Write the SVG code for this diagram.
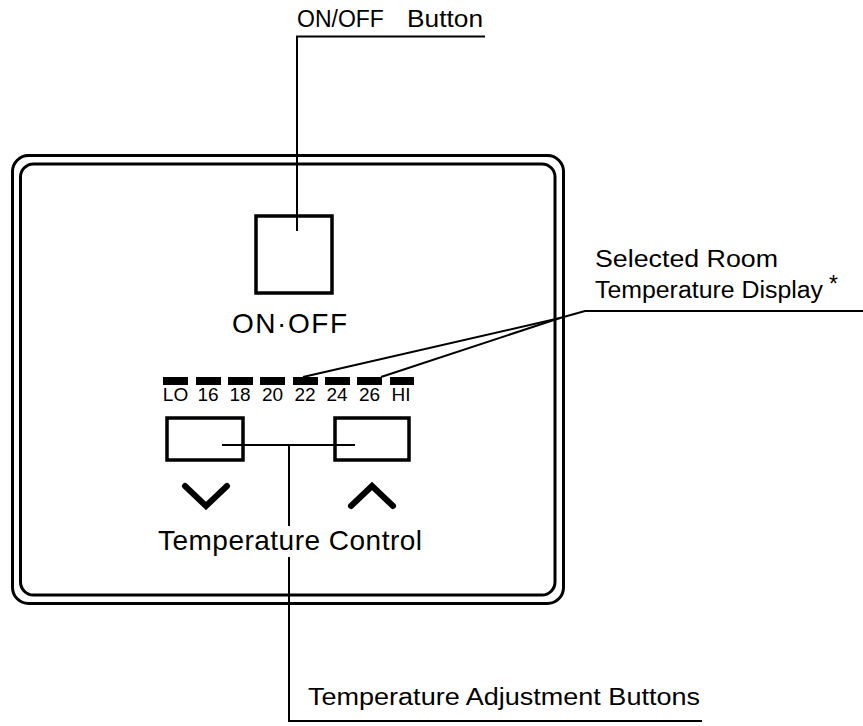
<svg xmlns="http://www.w3.org/2000/svg" width="863" height="726" viewBox="0 0 863 726">
<style>
  .frame { fill: none; stroke: #000; stroke-width: 3; }
  .btn { fill: #fff; stroke: #000; stroke-width: 3.5; }
  .lead { fill: none; stroke: #000; stroke-width: 2; }
  .chev { fill: none; stroke: #000; stroke-width: 6; stroke-linecap: round; stroke-linejoin: miter; }
  .bar { fill: #000; }
  text { font-family: "Liberation Sans", Arial, Helvetica, sans-serif; fill: #000; }
  .lbl { font-size: 23px; }
  .big { font-size: 28px; }
  .num { font-size: 19px; text-anchor: middle; }
</style>
<rect width="863" height="726" fill="#fff"/>
<g id="panel">
  <rect class="frame" x="12.5" y="155.5" width="551" height="448" rx="16"/>
  <rect class="frame" x="20.5" y="164" width="534.5" height="431" rx="13"/>
</g>
<g id="onoff-button">
  <rect class="btn" x="256" y="216" width="76" height="77"/>
  <text class="big" x="232" y="333" textLength="115" lengthAdjust="spacing">ON·OFF</text>
</g>
<g id="temperature-display">
  <rect class="bar" x="163" y="377" width="25" height="8"/>
  <rect class="bar" x="196" y="377" width="25" height="8"/>
  <rect class="bar" x="228" y="377" width="25" height="8"/>
  <rect class="bar" x="260" y="377" width="25" height="8"/>
  <rect class="bar" x="293" y="377" width="25" height="8"/>
  <rect class="bar" x="325" y="377" width="25" height="8"/>
  <rect class="bar" x="357" y="377" width="25" height="8"/>
  <rect class="bar" x="390" y="377" width="24" height="8"/>
  <text class="num" x="175.5" y="401">LO</text>
  <text class="num" x="208" y="401">16</text>
  <text class="num" x="240" y="401">18</text>
  <text class="num" x="272.5" y="401">20</text>
  <text class="num" x="305" y="401">22</text>
  <text class="num" x="337" y="401">24</text>
  <text class="num" x="369.5" y="401">26</text>
  <text class="num" x="401" y="401">HI</text>
</g>
<g id="down-button">
  <rect class="btn" x="167" y="418" width="76" height="42"/>
  <polyline class="chev" points="185,486 206,506 227,486"/>
</g>
<g id="up-button">
  <rect class="btn" x="335" y="418" width="74" height="42"/>
  <polyline class="chev" points="351,506 372,486 393,506"/>
</g>
<g id="temperature-control-label">
  <text class="big" x="158" y="550" textLength="264" lengthAdjust="spacing">Temperature Control</text>
</g>
<g id="connectors">
  <polyline class="lead" points="485,36.5 297,36.5 297,231"/>
  <polyline class="lead" points="303,377 560,318 585,311 863,311"/>
  <polyline class="lead" points="381,377 560,318"/>
  <line class="lead" x1="222" y1="445" x2="355" y2="445"/>
  <line class="lead" x1="289" y1="445" x2="289" y2="526"/>
  <polyline class="lead" points="289,557 289,721 702,721"/>
</g>
<g id="labels">
  <text class="lbl" x="297" y="27" font-size="22">ON/OFF<tspan x="407" textLength="76" lengthAdjust="spacingAndGlyphs">Button</tspan></text>
  <text class="lbl" x="595" y="267" textLength="183" lengthAdjust="spacingAndGlyphs">Selected Room</text>
  <text class="lbl" x="595" y="298" textLength="228" lengthAdjust="spacingAndGlyphs">Temperature Display</text>
  <text class="lbl" x="829" y="292" font-size="17">*</text>
  <text class="lbl" x="308" y="705" textLength="392" lengthAdjust="spacingAndGlyphs">Temperature Adjustment Buttons</text>
</g>
</svg>
